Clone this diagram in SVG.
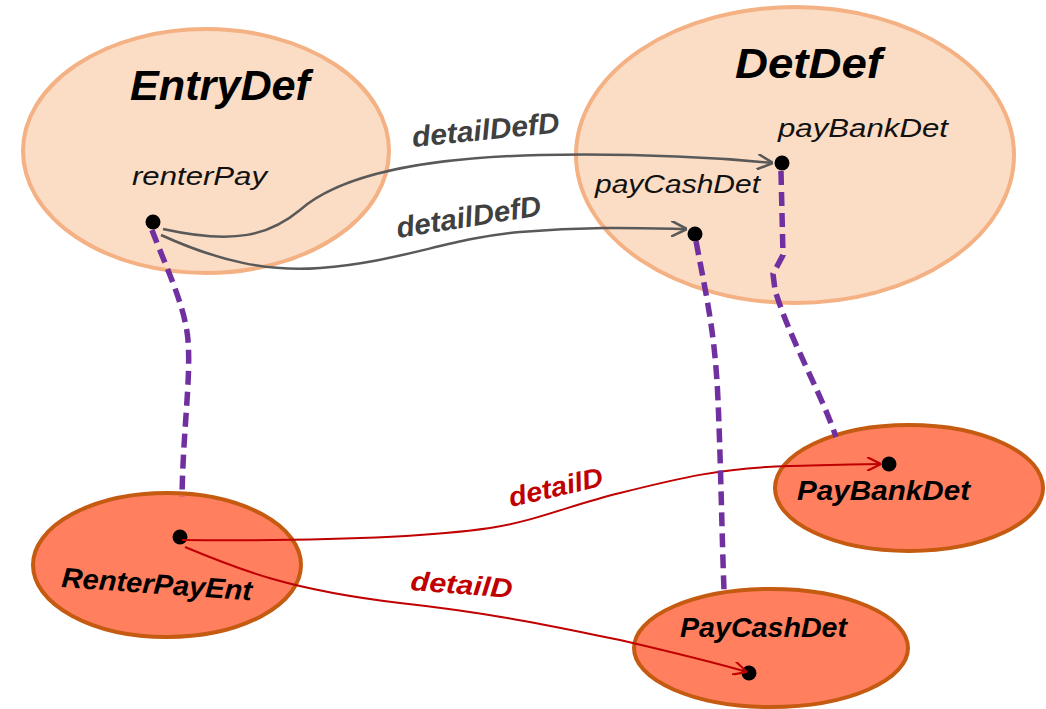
<svg xmlns="http://www.w3.org/2000/svg" width="1046" height="709" viewBox="0 0 1046 709">
<style>
.def{fill:#FBDCC4;stroke:#F4B183;stroke-width:4}
.ent{fill:#FF7F5F;stroke:#C55A11;stroke-width:4}
.title{font-family:"Liberation Sans",Arial,sans-serif;font-weight:bold;font-style:italic;font-size:42px;fill:#000}
.port{font-family:"Liberation Sans",Arial,sans-serif;font-style:italic;font-size:25px;fill:#111}
.ename{font-family:"Liberation Sans",Arial,sans-serif;font-weight:bold;font-style:italic;font-size:28px;fill:#000}
.glab{font-family:"Liberation Sans",Arial,sans-serif;font-weight:bold;font-style:italic;font-size:29px;fill:#404040}
.rlab{font-family:"Liberation Sans",Arial,sans-serif;font-weight:bold;font-style:italic;font-size:27px;fill:#C00000}
.dot{fill:#000}
.gline{fill:none;stroke:#595959;stroke-width:2.5}
.rline{fill:none;stroke:#C00000;stroke-width:2}
.pline{fill:none;stroke:#7030A0;stroke-width:5.5;stroke-dasharray:14 7}
</style>
<defs>
<marker id="ga" viewBox="0 0 10 10" refX="10" refY="5" markerWidth="16" markerHeight="16" markerUnits="userSpaceOnUse" orient="auto">
<path d="M0,0 L10,5 L0,10" fill="none" stroke="#595959" stroke-width="1.6"/>
</marker>
<marker id="ra" viewBox="0 0 10 10" refX="10" refY="5" markerWidth="14" markerHeight="14" markerUnits="userSpaceOnUse" orient="auto">
<path d="M0,0 L10,5 L0,10" fill="none" stroke="#C00000" stroke-width="1.5"/>
</marker>
</defs>

<g id="EntryDef">
<ellipse class="def" cx="206" cy="151" rx="183" ry="122"/>
<text class="title" x="130" y="100" textLength="180" lengthAdjust="spacingAndGlyphs">EntryDef</text>
<text class="port" x="132" y="185" textLength="135" lengthAdjust="spacingAndGlyphs">renterPay</text>
<circle class="dot" cx="153" cy="222" r="7.5"/>
</g>

<g id="DetDef">
<ellipse class="def" cx="795" cy="155" rx="219" ry="148"/>
<text class="title" x="735" y="78" textLength="147" lengthAdjust="spacingAndGlyphs">DetDef</text>
<text class="port" x="778" y="137" textLength="170" lengthAdjust="spacingAndGlyphs">payBankDet</text>
<circle class="dot" cx="782" cy="163" r="7.5"/>
<text class="port" x="595" y="193" textLength="165" lengthAdjust="spacingAndGlyphs">payCashDet</text>
<circle class="dot" cx="695" cy="234" r="7.5"/>
</g>

<g id="RenterPayEnt">
<ellipse class="ent" cx="167" cy="565" rx="134" ry="72"/>
<text class="ename" x="61" y="587" textLength="191" lengthAdjust="spacingAndGlyphs" transform="rotate(4 61 587)">RenterPayEnt</text>
<circle class="dot" cx="180" cy="537" r="7.5"/>
</g>

<g id="PayBankDet">
<ellipse class="ent" cx="909" cy="488" rx="134" ry="63"/>
<text class="ename" x="797" y="500" textLength="173" lengthAdjust="spacingAndGlyphs">PayBankDet</text>
<circle class="dot" cx="889" cy="464" r="7.5"/>
</g>

<g id="PayCashDet">
<ellipse class="ent" cx="771" cy="648" rx="137" ry="59"/>
<text class="ename" x="680" y="637" textLength="167" lengthAdjust="spacingAndGlyphs">PayCashDet</text>
<circle class="dot" cx="749" cy="673" r="7.5"/>
</g>

<g id="connectors">
<path class="gline" marker-end="url(#ga)" d="M163,229 C235,245 270,235 300,210 C340,175 420,158 540,155 C650,153 720,158 773,163"/>
<path class="gline" marker-end="url(#ga)" d="M161,235 C220,262 270,272 320,268 C400,262 450,238 520,232 C590,226 640,228 687,229"/>
<text class="glab" x="413" y="147" textLength="148" lengthAdjust="spacingAndGlyphs" transform="rotate(-5.7 413 147)">detailDefD</text>
<text class="glab" x="398" y="238" textLength="146" lengthAdjust="spacingAndGlyphs" transform="rotate(-9 398 238)">detailDefD</text>

<path class="rline" marker-end="url(#ra)" d="M182,540 C300,541 420,538 490,528 C540,520 570,505 620,493 C680,478 720,468 790,466 C830,465 860,464 881,464"/>
<path class="rline" marker-end="url(#ra)" d="M185,547 C240,570 290,590 400,603 C500,614 560,628 620,640 C680,654 720,664 747,672"/>
<text class="rlab" x="511" y="507" textLength="96" lengthAdjust="spacingAndGlyphs" transform="rotate(-13 511 507)">detailD</text>
<text class="rlab" x="410" y="590" textLength="102" lengthAdjust="spacingAndGlyphs" transform="rotate(4.5 410 590)">detailD</text>

<path class="pline" d="M152,230 C165,265 185,305 188,340 C191,380 183,430 182,497"/>
<path class="pline" d="M696,241 C705,290 715,330 718,400 C721,470 722,540 724,590"/>
<path class="pline" d="M781,171 L783,255 L773,274 L775,290 C790,340 820,390 836,437"/>
</g>
</svg>
